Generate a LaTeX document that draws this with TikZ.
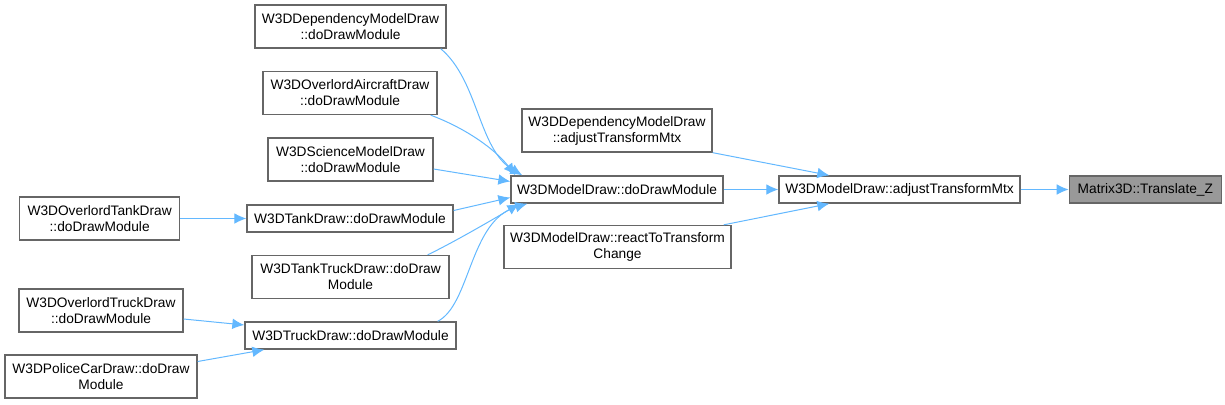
\documentclass[tikz,border=0pt]{standalone}
\usepackage{fontspec}
\setmainfont{Liberation Sans}
\usetikzlibrary{arrows.meta,positioning}
\definecolor{call}{HTML}{63B8FF}
\definecolor{boxline}{HTML}{666666}
\definecolor{curfill}{HTML}{999999}
\newlength\pxu
\setlength\pxu{0.75pt}
\begin{document}
\begin{tikzpicture}[
  x=\pxu, y=-\pxu,
  >={Latex[length=9pt,width=8pt]},
  fn/.style={draw=boxline, line width=1pt, fill=white, align=center, inner sep=0pt, minimum height=27\pxu, font=\fontsize{10.3}{12}\selectfont},
  fntwo/.style={fn, minimum height=43\pxu},
  cur/.style={fn, fill=curfill},
  calls/.style={->, draw=call, line width=0.75pt},
]
\useasboundingbox (0,0) rectangle (1225,404);
% callers of W3DModelDraw::doDrawModule
\node[fntwo, minimum width=191\pxu] (depdraw) at (350.5,26.5) {W3DDependencyModelDraw\\::doDrawModule};
\node[fntwo, minimum width=174\pxu] (aircraft) at (350,93) {W3DOverlordAircraftDraw\\::doDrawModule};
\node[fntwo, minimum width=165\pxu] (science) at (350.5,159.5) {W3DScienceModelDraw\\::doDrawModule};
\node[fn, minimum width=206\pxu] (tank) at (350,218.5) {W3DTankDraw::doDrawModule};
\node[fntwo, minimum width=197\pxu] (tanktruck) at (350.5,277) {W3DTankTruckDraw::doDraw\\Module};
\node[fn, minimum width=211\pxu] (truck) at (350.5,335.5) {W3DTruckDraw::doDrawModule};
% leftmost column
\node[fntwo, minimum width=160\pxu, left=66\pxu of tank] (otank) {W3DOverlordTankDraw\\::doDrawModule};
\node[fntwo, minimum width=164\pxu] (otruck) at (101,310.5) {W3DOverlordTruckDraw\\::doDrawModule};
\node[fntwo, minimum width=192\pxu] (police) at (101,376.5) {W3DPoliceCarDraw::doDraw\\Module};
% middle column
\node[fntwo, minimum width=190\pxu] (depadj) at (617,130.5) {W3DDependencyModelDraw\\::adjustTransformMtx};
\node[fn, minimum width=212\pxu] (modeldo) at (617,189.5) {W3DModelDraw::doDrawModule};
\node[fntwo, minimum width=227\pxu] (react) at (617.5,247) {W3DModelDraw::reactToTransform\\Change};
% right side
\node[fn, minimum width=241\pxu] (modeladj) at (899.5,189.5) {W3DModelDraw::adjustTransformMtx};
\node[cur, minimum width=152\pxu, right=48\pxu of modeladj] (translate) {Matrix3D::Translate\_Z};
% into doDrawModule
\draw[calls] ([xshift=-6\pxu]depdraw.south east) .. controls +(38,32) and +(-44,-26) .. ([xshift=12\pxu]modeldo.north west);
\draw[calls] ([xshift=-7\pxu]aircraft.south east) .. controls +(35,13) and +(-20,-26) .. ([xshift=5\pxu]modeldo.north west);
\draw[calls] ([yshift=-9.5\pxu]science.east) -- ([yshift=8\pxu]modeldo.west);
\draw[calls] ([yshift=8\pxu]tank.east) -- ([yshift=-8\pxu]modeldo.west);
\draw[calls] ([xshift=-22\pxu]tanktruck.north east) .. controls +(25,-12) and +(-25,15) .. ([xshift=9\pxu]modeldo.south west);
\draw[calls] ([xshift=-19\pxu]truck.north east) .. controls +(33,-17) and +(-58,17) .. ([xshift=17\pxu]modeldo.south west);
% into the tank and truck draws
\draw[calls] (otank) -- (tank);
\draw[calls] ([yshift=-8.5\pxu]otruck.east) -- ([yshift=10.5\pxu]truck.west);
\draw[calls] ([yshift=15\pxu]police.east) -- ([xshift=20\pxu]truck.south west);
% into adjustTransformMtx
\draw[calls] (depadj.south east) -- ([xshift=51\pxu]modeladj.north west);
\draw[calls] (modeldo) -- (modeladj);
\draw[calls] ([xshift=-8\pxu]react.north east) -- ([xshift=51\pxu]modeladj.south west);
% the function itself
\draw[calls] (modeladj) -- (translate);
\end{tikzpicture}
\end{document}
